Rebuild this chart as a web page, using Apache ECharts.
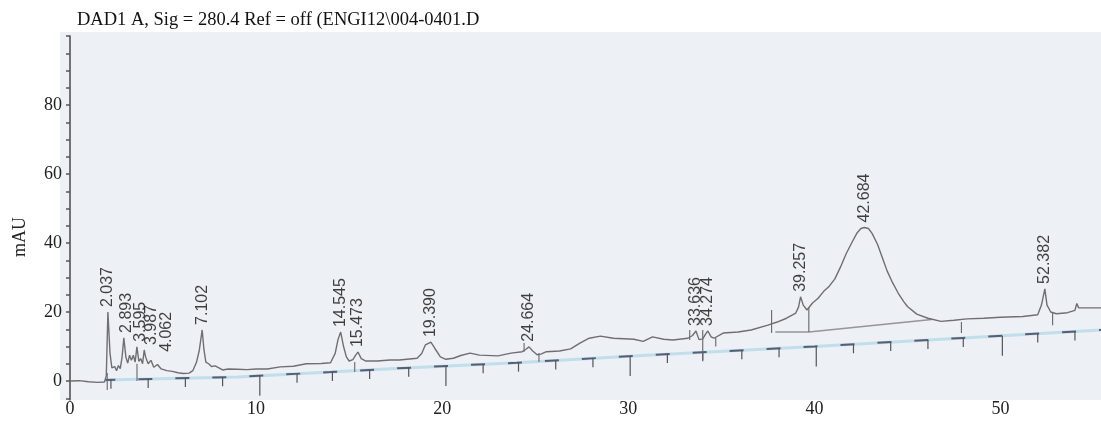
<!DOCTYPE html>
<html><head><meta charset="utf-8">
<script src="https://cdn.jsdelivr.net/npm/echarts@6/dist/echarts.min.js"></script>
<style>html,body{margin:0;padding:0;background:#fff}#c{width:1101px;height:421px}</style>
</head><body><div id="c"></div>
<script>
// ---------- data ----------
const titleText = 'DAD1 A, Sig = 280.4 Ref = off (ENGI12\\004-0401.D';
const yAxisName = 'mAU';
const xTickValues = [0, 10, 20, 30, 40, 50];
const yLabelValues = [0, 20, 40, 60, 80];
const yTickValues = [-5, 0, 5, 10, 15, 20, 25, 30, 35, 40, 45, 50, 55, 60, 65, 70, 75, 80, 85, 90, 95, 100];

const traceTime = [0, 0.5, 1.0, 1.5, 1.85, 1.95, 2.037, 2.15, 2.25, 2.4, 2.5, 2.6, 2.7, 2.8, 2.893, 3.0, 3.1, 3.2, 3.3, 3.4, 3.5, 3.595, 3.7, 3.8, 3.9, 3.987, 4.062, 4.2, 4.35, 4.5, 4.7, 4.9, 5.2, 5.5, 5.8, 6.1, 6.4, 6.6, 6.8, 6.95, 7.102, 7.2, 7.3, 7.45, 7.6, 7.8, 8.0, 8.2, 8.5, 9.0, 9.5, 10.0, 10.6, 11.3, 12.0, 12.7, 13.5, 14.0, 14.25, 14.4, 14.545, 14.7, 14.85, 15.0, 15.2, 15.35, 15.473, 15.65, 15.9, 16.5, 17.2, 17.7, 18.65, 18.9, 19.1, 19.39, 19.6, 19.9, 20.2, 20.6, 21.0, 21.5, 22.0, 23.0, 23.7, 24.3, 24.5, 24.664, 24.85, 25.1, 25.3, 25.6, 26.3, 26.9, 27.4, 27.9, 28.5, 29.2, 30.3, 30.8, 31.3, 31.9, 32.4, 33.2, 33.45, 33.636, 33.8, 34.0, 34.15, 34.274, 34.45, 34.6, 35.1, 35.9, 36.6, 37.5, 38.0, 38.5, 39.0, 39.15, 39.257, 39.4, 39.6, 39.9, 40.2, 40.5, 40.8, 41.1, 41.4, 41.7, 42.0, 42.3, 42.5, 42.684, 42.9, 43.1, 43.4, 43.7, 43.9, 44.2, 44.5, 44.8, 45.0, 45.5, 46.1, 46.8, 47.5, 48.2, 49.1, 50.0, 51.2, 52.0, 52.2, 52.382, 52.5, 52.7, 53.0, 53.6, 54.0, 54.1, 54.2, 54.8, 55.4];
const traceMAU = [0, 0.1, -0.2, -0.4, -0.3, 1.5, 20, 8, 3.8, 4.2, 3.0, 4.5, 3.6, 7, 12.5, 7, 5.2, 7.5, 6, 7.5, 5.5, 9.9, 5.7, 6.5, 5, 9, 7, 5, 6, 4, 4.8, 3.5, 3.0, 2.8, 2.4, 2.2, 2.3, 3.0, 5.5, 9, 14.8, 9, 5.5, 5, 4.2, 4.4, 3.8, 3.2, 3.5, 3.4, 3.3, 3.5, 3.5, 4.1, 4.3, 5.0, 5.1, 5.3, 8, 12, 14.2, 10, 7, 5.8, 6.2, 7.5, 8.4, 6.5, 5.8, 5.8, 6.1, 6.1, 6.6, 8, 10.5, 11.3, 9.5, 7, 6.3, 6.6, 7.4, 8.1, 7.5, 7.3, 8.1, 8.5, 9.2, 9.9, 8.8, 7.6, 7.8, 8.5, 8.7, 9.3, 11, 12.4, 13, 12.4, 12.1, 11.5, 12.8, 12.1, 11.9, 12.4, 13.2, 14.5, 12, 12.2, 13.6, 14.5, 12.8, 12.4, 13.9, 14.2, 14.8, 16.2, 17.1, 18.2, 19.7, 21.5, 24.4, 22, 20.6, 22.6, 24, 26, 27.5, 29.6, 33, 36.8, 40, 43, 44.2, 44.5, 44.2, 42.8, 39.5, 35, 32, 28.5, 25.5, 23, 21.6, 19.4, 18.2, 17.3, 17.6, 18, 18.2, 18.5, 18.7, 19.2, 22, 26.7, 22, 20, 19.5, 19.8, 20.5, 22.5, 21.2, 21.2, 21.2];

const peakTimes = [2.037, 2.893, 3.595, 3.987, 4.062, 7.102, 14.545, 15.473, 19.390, 24.664, 33.636, 34.274, 39.257, 42.684, 52.382];
const peakHeights = [20, 12.5, 9.9, 9, 7, 14.8, 14.2, 8.4, 11.3, 9.9, 14.5, 14.5, 24.4, 44.5, 26.7];

const baselineTime = [1.9, 9, 14, 18, 24, 31, 40, 48, 55.4];
const baselineMAU = [0.3, 1.2, 2.6, 3.8, 5.3, 7.5, 10, 12.5, 14.8];
const upperBaseTime = [37.9, 39.7, 46.3];
const upperBaseMAU = [14.2, 14.2, 17.8];
const baseTickTimes = [2.2, 4.2, 6.2, 8.2, 10.2, 12.2, 14.1, 16.1, 18.2, 20.2, 22.2, 24.1, 26.1, 28.1, 30.1, 32.1, 34.0, 36.1, 38.1, 40.1, 42.1, 44.1, 46.1, 48.0, 50.1, 52.0, 54.0];
const dropTime = [2.0, 3.6, 15.3, 24.4, 25.2, 33.3, 34.0, 34.7, 37.7, 39.7, 47.9, 52.8];
const dropTop = [2.3, 5, 5.5, 11, 8.1, 14.8, 14.8, 12.5, 20.6, 21.4, 17.1, 20];
const dropBottom = [-2.6, 0, 2.6, 8.5, 5.5, 11.9, 6.1, 10, 13.9, 14.2, 13.9, 16.2];

// ---------- styling ----------
const SERIF = '"Liberation Serif", "Times New Roman", serif';
const SANS = '"Liberation Sans", Arial, sans-serif';
const labelShiftPx = {'2.893': 3, '3.595': 4, '3.987': 7, '4.062': 21};

function interp(xs, ys, x) {
  if (x <= xs[0]) return ys[0];
  for (let i = 1; i < xs.length; i++) {
    if (x <= xs[i]) { const f = (x - xs[i-1]) / (xs[i] - xs[i-1]); return ys[i-1] + f * (ys[i] - ys[i-1]); }
  }
  return ys[ys.length - 1];
}

const chart = echarts.init(document.getElementById('c'), null, {renderer: 'canvas'});
const option = {
  animation: false,
  backgroundColor: '#ffffff',
  graphic: [
    {type: 'rect', shape: {x: 60, y: 32, width: 1041, height: 368}, style: {fill: '#edf0f5'}, z: -10, silent: true},
    {type: 'text', left: 77, top: 11, style: {text: titleText, font: '18.5px ' + SERIF, fill: '#111'}},
    {type: 'text', x: 20, y: 237, rotation: Math.PI / 2, style: {text: yAxisName, font: '18px ' + SERIF, fill: '#222', align: 'center', verticalAlign: 'middle'}}
  ],
  grid: {left: 70, right: 0, top: 36, bottom: 21, containLabel: false},
  xAxis: {
    type: 'value', min: 0, max: 55.4, interval: 10,
    axisLine: {show: false}, axisTick: {show: false}, splitLine: {show: false},
    axisLabel: {margin: 0, color: '#222', fontFamily: SERIF, fontSize: 18,
      showMaxLabel: false,
      formatter: v => (xTickValues.indexOf(v) >= 0 ? String(v) : '')}
  },
  yAxis: {
    type: 'value', min: -5.5, max: 100,
    axisLine: {show: true, lineStyle: {color: '#4a4a4a', width: 1.5}},
    axisTick: {show: true, customValues: yTickValues, length: 4, lineStyle: {color: '#555', width: 1.5}},
    axisLabel: {customValues: yLabelValues, margin: 8, color: '#222', fontFamily: SERIF, fontSize: 18},
    splitLine: {show: false}
  },
  series: [
    { // lower integration baseline (colour fringe)
      type: 'line', data: baselineTime.map((t, i) => [t, baselineMAU[i]]), symbol: 'none', silent: true,
      lineStyle: {color: 'rgba(150,205,225,0.5)', width: 3}, z: 1
    },
    { // lower integration baseline (dark dashes)
      type: 'line', data: baselineTime.map((t, i) => [t, baselineMAU[i]]), symbol: 'none', silent: true,
      lineStyle: {color: 'rgba(60,60,85,0.8)', width: 2, type: [14, 23], dashOffset: 4}, z: 2
    },
    { // upper baseline under the big peak
      type: 'line', data: upperBaseTime.map((t, i) => [t, upperBaseMAU[i]]), symbol: 'none', silent: true,
      lineStyle: {color: 'rgba(110,110,120,0.7)', width: 1.5}, z: 2
    },
    { // time ticks along the baseline
      type: 'custom', silent: true, z: 3,
      data: baseTickTimes.map(t => [t, interp(baselineTime, baselineMAU, t)]),
      renderItem: function (params, api) {
        const p = api.coord([api.value(0), api.value(1)]);
        const long = Math.round(api.value(0)) % 10 === 0;
        return {type: 'line', shape: {x1: p[0], y1: p[1], x2: p[0], y2: p[1] + (long ? 20 : 9)},
          style: {stroke: '#555', lineWidth: 1.2}};
      }
    },
    { // peak start/end drop lines
      type: 'custom', silent: true, z: 3,
      data: dropTime.map((t, i) => [t, dropTop[i], dropBottom[i]]),
      renderItem: function (params, api) {
        const a = api.coord([api.value(0), api.value(1)]);
        const b = api.coord([api.value(0), api.value(2)]);
        return {type: 'line', shape: {x1: a[0], y1: a[1], x2: b[0], y2: b[1]},
          style: {stroke: '#666', lineWidth: 1.1}};
      }
    },
    { // chromatogram trace
      type: 'line', data: traceTime.map((t, i) => [t, traceMAU[i]]), symbol: 'none', silent: true,
      lineStyle: {color: '#6f6f72', width: 1.4}, z: 4
    },
    { // peak retention-time labels
      type: 'scatter', symbolSize: 0, silent: true, z: 5,
      data: peakTimes.map((t, i) => ({
        value: [t, peakHeights[i]],
        label: {offset: [0, labelShiftPx[t.toFixed(3)] || 0]}
      })),
      label: {
        show: true, position: 'top', distance: 5, rotate: 90, align: 'left', verticalAlign: 'middle',
        formatter: p => p.value[0].toFixed(3), fontFamily: SANS, fontSize: 16, color: '#111'
      }
    }
  ]
};
chart.setOption(option);
</script>
</body></html>
